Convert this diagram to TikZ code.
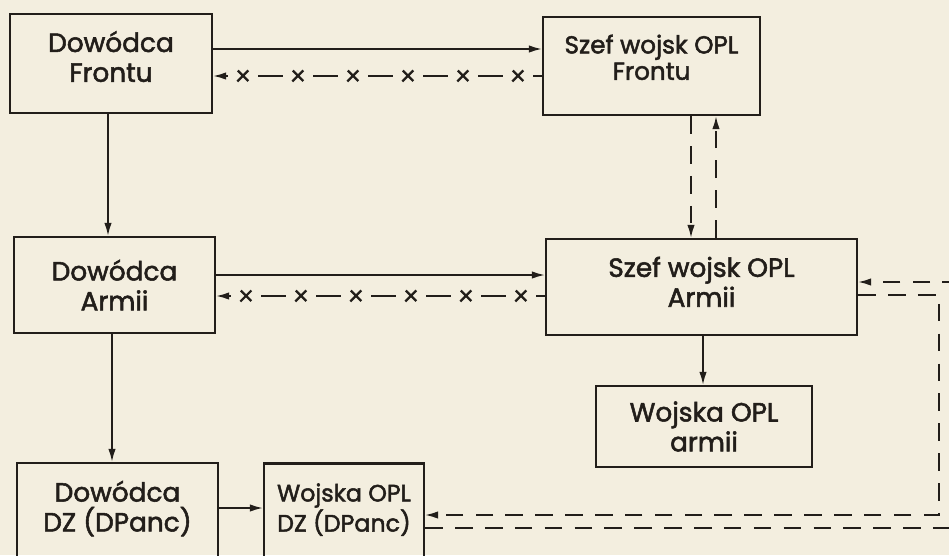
\documentclass[tikz,border=0pt]{standalone}
\usepackage{fontspec}
\setmainfont{Poppins}[FakeBold=2]
\usepackage{tikz}
\usetikzlibrary{arrows.meta,decorations.markings}
\definecolor{paper}{HTML}{F3EEDF}
\definecolor{ink}{HTML}{221E1A}

\begin{document}
\begin{tikzpicture}[x=0.02cm,y=-0.02cm,
    every node/.style={font=\fontsize{15}{17}\selectfont,text=ink},
    box/.style={draw=ink,line width=1.4pt,align=center,inner sep=2pt},
    arr/.style={draw=ink,-{Latex[length=2.6mm,width=1.5mm]},line width=0.9pt},
    dline/.style={draw=ink,line width=0.9pt,dash pattern=on 10pt off 7pt},
    xline/.style={arr,postaction={decorate},decoration={markings,
        mark=between positions 0.48cm and 6.2cm step 1.1cm with {
          \fill[paper] (-0.3cm,-0.08cm) rectangle (0.3cm,0.08cm);
          \draw[ink,arrows=-,line width=1.3pt] (-0.11cm,-0.11cm) -- (0.11cm,0.11cm)
            (-0.11cm,0.1cm) -- (0.1cm,-0.11cm);}}},
  ]
  \fill[paper] (0,0) rectangle (949,555);
  \useasboundingbox (0,0) rectangle (949,555);
  \clip (0,0) rectangle (949,555);

  \node[box,minimum width=4.04cm,minimum height=1.98cm] (dfront) at (111,63.5) {Dowódca\\Frontu\\[-9pt]};
  \node[box,minimum width=4.34cm,minimum height=1.96cm,font=\fontsize{14}{15}\selectfont] (sfront) at (651.5,66) {Szef wojsk OPL\\Frontu\\[-5pt]};
  \node[box,minimum width=4.02cm,minimum height=1.92cm] (darmii) at (114.5,285) {Dowódca\\Armii};
  \node[box,minimum width=6.22cm,minimum height=1.92cm] (sarmii) at (701.5,287) {Szef wojsk OPL\\Armii\\[-11pt]};
  \node[box,minimum width=4.32cm,minimum height=1.62cm] (wojarmii) at (704,426.5) {Wojska OPL\\armii};
  \node[box,minimum width=4.02cm,minimum height=2.04cm] (ddz) at (117.5,514) {Dowódca\\DZ (DPanc)\\[-8pt]};
  \node[box,minimum width=3.2cm,minimum height=2.04cm,font=\fontsize{13.5}{16}\selectfont] (wdz) at (344,514.5) {Wojska OPL\\DZ (DPanc)\\[-8pt]};

  % front <-> armia
  \draw[arr] (dfront.east |- 0,49) -- (sfront.west |- 0,49);
  \draw[xline] (sfront.west |- 0,76) -- (dfront.east |- 0,76);
  \draw[arr] (darmii.east |- 0,275) -- (sarmii.west |- 0,275);
  \draw[xline] (sarmii.west |- 0,296) -- (darmii.east |- 0,296);
  \draw[arr] (dfront.south -| 108,0) -- (darmii.north -| 108,0);
  \draw[arr] (darmii.south -| 112,0) -- (ddz.north -| 112,0);
  \draw[arr] (ddz.east |- 0,508) -- (wdz.west |- 0,508);
  \draw[arr] (sarmii.south -| 703,0) -- (wojarmii.north -| 703,0);
  \draw[dline,arr] (sfront.south -| 691,0) -- (sarmii.north -| 691,0);
  \draw[dline,arr] (sarmii.north -| 716,0) -- (sfront.south -| 716,0);

  % right side
  \coordinate (offA) at (960,282);
  \coordinate (turnT) at (939,295);
  \coordinate (turnB) at (939,515);
  \coordinate (offB) at (960,528);
  \draw[dline,arr] (offA) -- (sarmii.east |- offA);
  \draw[dline,arr] (sarmii.east |- turnT) -- (turnT) -- (turnB) -- (wdz.east |- turnB);
  \draw[dline] (wdz.east |- offB) -- (offB);
\end{tikzpicture}
\end{document}
